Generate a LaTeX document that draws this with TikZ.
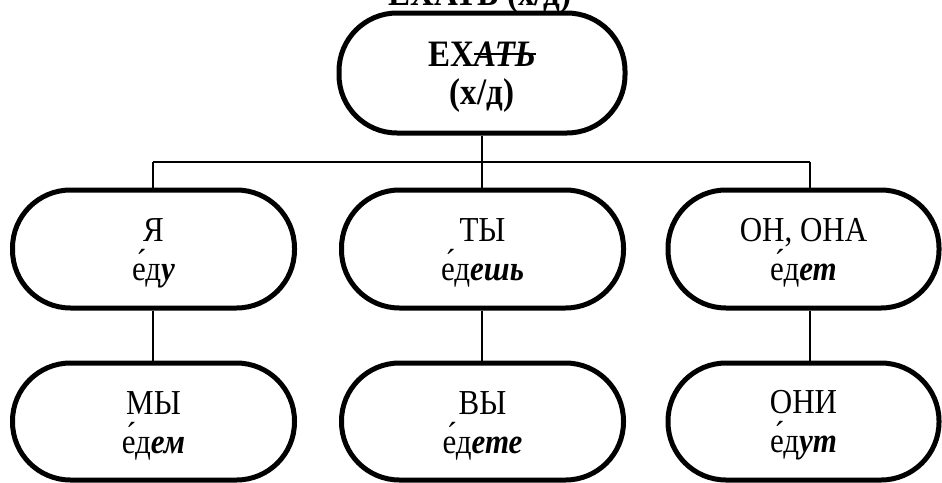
\documentclass[tikz,border=0pt]{standalone}
\usepackage{fontspec}
\usepackage{graphicx}
\setmainfont{Liberation Serif}
\newsavebox\strkbox
\newcommand\strikeit[1]{\sbox\strkbox{#1}\rlap{\usebox\strkbox}\rule[0.3em]{\wd\strkbox}{0.07em}}
\newcommand\sfx[1]{{\bfseries\itshape #1}}
\newcommand\tl[1]{\scalebox{1}[1.13]{#1}}
\begin{document}
\begin{tikzpicture}[x=1pt,y=-1pt,
  pill/.style={draw,line width=5pt,rounded corners=58pt,minimum height=118pt,
    minimum width=282pt,inner sep=0pt},
  txt/.style={align=center,inner sep=0pt,font=\fontsize{31}{39}\selectfont},
  conn/.style={line width=1.6pt}]
\useasboundingbox (0,0) rectangle (942,482);
\node[font=\fontsize{33}{36}\selectfont\bfseries,anchor=base] (title) at (480,5) {\tl{ЕХАТЬ (х/д)}};
\node[pill,minimum width=286pt,minimum height=120pt] (top) at (482,73) {};
\node[pill] (ya) at (153.5,249) {};
\node[pill] (ty) at (482.5,249) {};
\node[pill,minimum width=271pt] (on) at (803.5,249) {};
\node[pill,minimum height=117pt] (my) at (153.5,421.5) {};
\node[pill,minimum height=117pt] (vy) at (482.5,421.5) {};
\node[pill,minimum height=117pt,minimum width=271pt] (oni) at (803.5,421.5) {};
\node[txt,font=\fontsize{33}{38}\selectfont\bfseries] (topt) at ([yshift=-4pt]top.center)
  {\tl{ЕХ\strikeit{\itshape АТЬ}}\\\tl{(х/д)}};
\node[txt] (yat) at ([yshift=-4pt]ya.center) {\tl{Я}\\\tl{е́д\sfx{у}}};
\node[txt] (tyt) at ([yshift=-4pt]ty.center) {\tl{ТЫ}\\\tl{е́д\sfx{ешь}}};
\node[txt] (ont) at ([yshift=-4pt]on.center) {\tl{ОН, ОНА}\\\tl{е́д\sfx{ет}}};
\node[txt] (myt) at ([yshift=-4pt]my.center) {\tl{МЫ}\\\tl{е́д\sfx{ем}}};
\node[txt] (vyt) at ([yshift=-4pt]vy.center) {\tl{ВЫ}\\\tl{е́д\sfx{ете}}};
\node[txt] (onit) at ([yshift=-4pt]oni.center) {\tl{ОНИ}\\\tl{е́д\sfx{ут}}};
\coordinate (b1) at (153,162);
\coordinate (b2) at (482,162);
\coordinate (b3) at (810,162);
\draw[conn] (top.south -| b2) -- (b2);
\draw[conn] (b1) -- (b3);
\draw[conn] (b1) -- (ya.north -| b1);
\draw[conn] (b2) -- (ty.north -| b2);
\draw[conn] (b3) -- (on.north -| b3);
\draw[conn] (ya.south -| b1) -- (my.north -| b1);
\draw[conn] (ty.south -| b2) -- (vy.north -| b2);
\draw[conn] (on.south -| b3) -- (oni.north -| b3);
\end{tikzpicture}
\end{document}
